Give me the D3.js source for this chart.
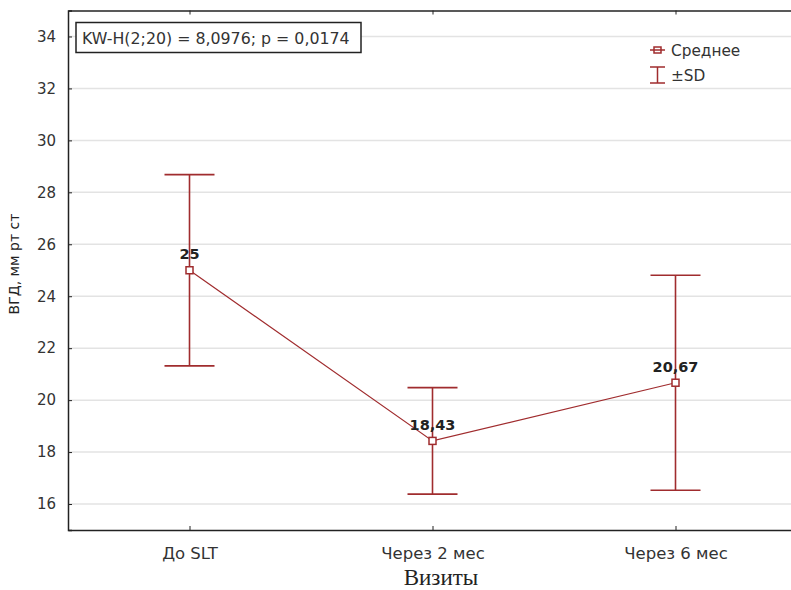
<!DOCTYPE html>
<html>
<head>
<meta charset="utf-8">
<script src="https://cdn.jsdelivr.net/npm/d3@7"></script>
<style>
  body { margin: 0; background: #fff; }
  svg { display: block; font-family: "DejaVu Sans", Verdana, sans-serif; }
</style>
</head>
<body>
<div id="chart"></div>
<script>
// Visits, mean IOP and SD
var visits = ['До SLT', 'Через 2 мес', 'Через 6 мес'];
var means = [25, 18.43, 20.67];
var sds = [3.68, 2.05, 4.14];
var meanLabels = ['25', '18,43', '20,67'];
var yTicks = [16, 18, 20, 22, 24, 26, 28, 30, 32, 34];
var statText = 'KW-H(2;20) = 8,0976; p = 0,0174';

(function () {

  // Set margin parameters
  var margin = {top: 10.5, right: -6, bottom: 60, left: 68},
      width = 791 - margin.left - margin.right,
      height = 590 - margin.top - margin.bottom;

  var red = '#a02c2e';

  // x function maps the visits along the x axis
  var x = d3.scalePoint().domain(visits).range([0, width]).padding(0.5);

  // y function maps IOP along the y axis
  var y = d3.scaleLinear().domain([15, 35]).range([height, 0]);

  var svg = d3.select('#chart')
      .append('svg')
      .attr('width', 791)
      .attr('height', 590);

  var g = svg.append('g')
      .attr('transform', 'translate(' + margin.left + ',' + margin.top + ')');

  // Grid lines
  g.append('g')
      .selectAll('line')
      .data(yTicks)
      .enter().append('line')
      .attr('x1', 0)
      .attr('x2', width)
      .attr('y1', function(d) { return y(d); })
      .attr('y2', function(d) { return y(d); })
      .attr('stroke', '#e3e3e3')
      .attr('stroke-width', 1.5);

  // Append y axis (ticks pointing inside)
  var yAxis = g.append('g')
      .call(d3.axisLeft(y).tickValues(yTicks).tickSize(-4).tickPadding(12));
  yAxis.select('.domain').attr('stroke', '#222').attr('stroke-width', 1.5);
  yAxis.selectAll('.tick line').attr('stroke', '#222');
  yAxis.selectAll('.tick text')
      .attr('fill', '#333')
      .style('font-size', '15px')
      .style('font-family', '"DejaVu Sans", Verdana, sans-serif');

  // Append x axis
  var xAxis = g.append('g')
      .attr('transform', 'translate(0,' + height + ')')
      .call(d3.axisBottom(x).tickSize(-4).tickSizeOuter(0).tickPadding(17));
  xAxis.select('.domain').attr('stroke', '#222').attr('stroke-width', 1.5);
  xAxis.selectAll('.tick line').attr('stroke', '#222');
  xAxis.selectAll('.tick text')
      .attr('fill', '#333')
      .style('font-size', '16.5px')
      .style('font-family', '"DejaVu Sans", Verdana, sans-serif');

  // Top frame with inner ticks
  var topAxis = g.append('g')
      .call(d3.axisTop(x).tickSize(-4).tickSizeOuter(0).tickFormat(''));
  topAxis.select('.domain').attr('stroke', '#222').attr('stroke-width', 1.5);
  topAxis.selectAll('.tick line').attr('stroke', '#222');

  // Line through the means
  var line = d3.line()
      .x(function(d, i) { return x(visits[i]); })
      .y(function(d) { return y(d); });

  g.append('path')
      .datum(means)
      .attr('fill', 'none')
      .attr('stroke', red)
      .attr('stroke-width', 1.2)
      .attr('d', line);

  // Error bars +-SD
  var bars = g.append('g')
      .selectAll('g')
      .data(means)
      .enter().append('g')
      .attr('stroke', red)
      .attr('stroke-width', 1.6);

  bars.append('line')
      .attr('x1', function(d, i) { return x(visits[i]); })
      .attr('x2', function(d, i) { return x(visits[i]); })
      .attr('y1', function(d, i) { return y(d + sds[i]); })
      .attr('y2', function(d, i) { return y(d - sds[i]); });

  bars.append('line')
      .attr('x1', function(d, i) { return x(visits[i]) - 25; })
      .attr('x2', function(d, i) { return x(visits[i]) + 25; })
      .attr('y1', function(d, i) { return y(d + sds[i]); })
      .attr('y2', function(d, i) { return y(d + sds[i]); });

  bars.append('line')
      .attr('x1', function(d, i) { return x(visits[i]) - 25; })
      .attr('x2', function(d, i) { return x(visits[i]) + 25; })
      .attr('y1', function(d, i) { return y(d - sds[i]); })
      .attr('y2', function(d, i) { return y(d - sds[i]); });

  // Mean markers
  g.append('g')
      .selectAll('rect')
      .data(means)
      .enter().append('rect')
      .attr('x', function(d, i) { return x(visits[i]) - 3.5; })
      .attr('y', function(d) { return y(d) - 3.5; })
      .attr('width', 7)
      .attr('height', 7)
      .attr('fill', '#fff')
      .attr('stroke', red)
      .attr('stroke-width', 1.5);

  // Mean value labels
  g.append('g')
      .selectAll('text')
      .data(means)
      .enter().append('text')
      .attr('x', function(d, i) { return x(visits[i]); })
      .attr('y', function(d) { return y(d) - 11; })
      .attr('text-anchor', 'middle')
      .attr('fill', '#222')
      .style('font-size', '14.5px')
      .style('font-weight', 'bold')
      .text(function(d, i) { return meanLabels[i]; });

  // Statistic box
  var stat = g.append('g').attr('transform', 'translate(8,12)');
  stat.append('rect')
      .attr('width', 285)
      .attr('height', 30)
      .attr('fill', '#fff')
      .attr('stroke', '#222')
      .attr('stroke-width', 1.5);
  stat.append('text')
      .attr('x', 6)
      .attr('y', 21)
      .attr('fill', '#333')
      .style('font-size', '15.8px')
      .text(statText);

  // Legend
  var legend = svg.append('g').attr('transform', 'translate(650,0)');
  legend.append('line')
      .attr('x1', 0).attr('x2', 15)
      .attr('y1', 50).attr('y2', 50)
      .attr('stroke', red).attr('stroke-width', 1.5);
  legend.append('rect')
      .attr('x', 4).attr('y', 47)
      .attr('width', 7).attr('height', 6)
      .attr('fill', 'none')
      .attr('stroke', red).attr('stroke-width', 1.5);
  legend.append('text')
      .attr('x', 21).attr('y', 55.5)
      .attr('fill', '#333')
      .style('font-size', '15.3px')
      .text('Среднее');
  legend.append('path')
      .attr('d', 'M0,67H15M7.5,67V83M0,83H15')
      .attr('fill', 'none')
      .attr('stroke', red).attr('stroke-width', 1.5);
  legend.append('text')
      .attr('x', 21).attr('y', 81)
      .attr('fill', '#333')
      .style('font-size', '15.3px')
      .text('±SD');

  // Axis titles
  svg.append('text')
      .attr('transform', 'translate(19,264) rotate(-90)')
      .attr('text-anchor', 'middle')
      .attr('fill', '#222')
      .style('font-size', '14px')
      .text('ВГД, мм рт ст');

  svg.append('text')
      .attr('x', 441)
      .attr('y', 585)
      .attr('text-anchor', 'middle')
      .attr('fill', '#222')
      .style('font-family', '"Liberation Serif", "Times New Roman", serif')
      .style('font-size', '23px')
      .text('Визиты');
})();
</script>
</body>
</html>
